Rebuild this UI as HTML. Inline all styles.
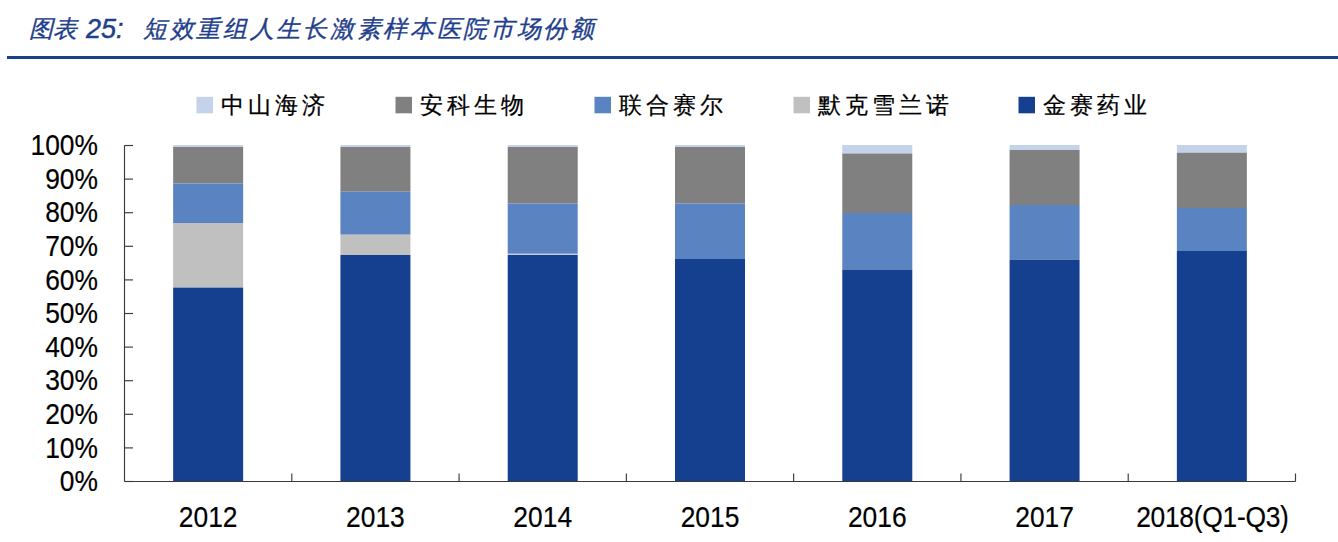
<!DOCTYPE html>
<html><head><meta charset="utf-8"><style>
html,body{margin:0;padding:0;background:#fff;width:1338px;height:542px;overflow:hidden}
svg{display:block}
.ax{font-family:"Liberation Sans",sans-serif;font-size:29px;fill:#000;stroke:#000;stroke-width:0.2px}
.lg{font-family:"Liberation Serif",serif;font-size:23px;fill:#000;letter-spacing:4px;font-weight:500;stroke:#000;stroke-width:0.25px}
.ti{font-family:"Liberation Serif",serif;font-size:24px;fill:#1F3F8C;font-style:italic;font-weight:500;stroke:#1F3F8C;stroke-width:0.35px}
.tn{font-family:"Liberation Sans",sans-serif;font-size:27px;fill:#1F3F8C;font-style:italic;stroke:#1F3F8C;stroke-width:0.45px}
</style></head><body>
<svg width="1338" height="542" viewBox="0 0 1338 542">
<text x="29" y="36.7" class="ti" style="letter-spacing:0px">图表</text><text x="86" y="37.7" class="tn">25:</text><text x="143" y="36.7" class="ti" style="letter-spacing:2.7px">短效重组人生长激素样本医院市场份额</text>
<rect x="7" y="56" width="1331" height="3" fill="#1B3F88"/>
<rect x="196.5" y="96.8" width="16.5" height="16.5" fill="#C5D3EA"/><text x="221" y="112.5" class="lg">中山海济</text><rect x="395.5" y="96.8" width="16.5" height="16.5" fill="#808080"/><text x="420" y="112.5" class="lg">安科生物</text><rect x="594.5" y="96.8" width="16.5" height="16.5" fill="#5A84C1"/><text x="619" y="112.5" class="lg">联合赛尔</text><rect x="793.5" y="96.8" width="16.5" height="16.5" fill="#C0C0C0"/><text x="818" y="112.5" class="lg">默克雪兰诺</text><rect x="1018.5" y="96.8" width="16.5" height="16.5" fill="#15408F"/><text x="1043" y="112.5" class="lg">金赛药业</text>
<rect x="173.14" y="145.00" width="70" height="2.00" fill="#C5D3EA"/><rect x="173.14" y="147.00" width="70" height="36.50" fill="#808080"/><rect x="173.14" y="183.50" width="70" height="39.50" fill="#5A84C1"/><rect x="173.14" y="223.00" width="70" height="64.60" fill="#C0C0C0"/><rect x="173.14" y="287.60" width="70" height="193.90" fill="#15408F"/><text transform="translate(208.14,527) scale(0.91,1)" text-anchor="middle" class="ax">2012</text><rect x="340.43" y="145.00" width="70" height="2.00" fill="#C5D3EA"/><rect x="340.43" y="147.00" width="70" height="44.70" fill="#808080"/><rect x="340.43" y="191.70" width="70" height="43.00" fill="#5A84C1"/><rect x="340.43" y="234.70" width="70" height="20.30" fill="#C0C0C0"/><rect x="340.43" y="255.00" width="70" height="226.50" fill="#15408F"/><text transform="translate(375.43,527) scale(0.91,1)" text-anchor="middle" class="ax">2013</text><rect x="507.71" y="145.00" width="70" height="2.00" fill="#C5D3EA"/><rect x="507.71" y="147.00" width="70" height="56.50" fill="#808080"/><rect x="507.71" y="203.50" width="70" height="50.30" fill="#5A84C1"/><rect x="507.71" y="253.80" width="70" height="1.20" fill="#C2CCE6"/><rect x="507.71" y="255.00" width="70" height="226.50" fill="#15408F"/><text transform="translate(542.71,527) scale(0.91,1)" text-anchor="middle" class="ax">2014</text><rect x="675.00" y="145.00" width="70" height="2.00" fill="#C5D3EA"/><rect x="675.00" y="147.00" width="70" height="56.50" fill="#808080"/><rect x="675.00" y="203.50" width="70" height="55.50" fill="#5A84C1"/><rect x="675.00" y="259.00" width="70" height="222.50" fill="#15408F"/><text transform="translate(710.00,527) scale(0.91,1)" text-anchor="middle" class="ax">2015</text><rect x="842.29" y="145.00" width="70" height="8.50" fill="#C5D3EA"/><rect x="842.29" y="153.50" width="70" height="59.50" fill="#808080"/><rect x="842.29" y="213.00" width="70" height="56.50" fill="#5A84C1"/><rect x="842.29" y="269.50" width="70" height="212.00" fill="#15408F"/><text transform="translate(877.29,527) scale(0.91,1)" text-anchor="middle" class="ax">2016</text><rect x="1009.57" y="145.00" width="70" height="5.00" fill="#C5D3EA"/><rect x="1009.57" y="150.00" width="70" height="55.00" fill="#808080"/><rect x="1009.57" y="205.00" width="70" height="54.60" fill="#5A84C1"/><rect x="1009.57" y="259.60" width="70" height="221.90" fill="#15408F"/><text transform="translate(1044.57,527) scale(0.91,1)" text-anchor="middle" class="ax">2017</text><rect x="1176.86" y="145.00" width="70" height="7.70" fill="#C5D3EA"/><rect x="1176.86" y="152.70" width="70" height="55.30" fill="#808080"/><rect x="1176.86" y="208.00" width="70" height="43.00" fill="#5A84C1"/><rect x="1176.86" y="251.00" width="70" height="230.50" fill="#15408F"/><text transform="translate(1212.36,527) scale(0.91,1)" text-anchor="middle" class="ax" letter-spacing="-0.3">2018(Q1-Q3)</text>
<line x1="124.5" y1="145.5" x2="124.5" y2="481.5" stroke="#3a3a3a" stroke-width="1.15"/>
<line x1="124.5" y1="481.5" x2="1295.5" y2="481.5" stroke="#3a3a3a" stroke-width="1.15"/>
<line x1="124.5" y1="481.50" x2="133.0" y2="481.50" stroke="#3a3a3a" stroke-width="1.15"/><text transform="translate(98,491.20) scale(0.91,1)" text-anchor="end" class="ax">0%</text><line x1="124.5" y1="447.90" x2="133.0" y2="447.90" stroke="#3a3a3a" stroke-width="1.15"/><text transform="translate(98,457.60) scale(0.91,1)" text-anchor="end" class="ax">10%</text><line x1="124.5" y1="414.30" x2="133.0" y2="414.30" stroke="#3a3a3a" stroke-width="1.15"/><text transform="translate(98,424.00) scale(0.91,1)" text-anchor="end" class="ax">20%</text><line x1="124.5" y1="380.70" x2="133.0" y2="380.70" stroke="#3a3a3a" stroke-width="1.15"/><text transform="translate(98,390.40) scale(0.91,1)" text-anchor="end" class="ax">30%</text><line x1="124.5" y1="347.10" x2="133.0" y2="347.10" stroke="#3a3a3a" stroke-width="1.15"/><text transform="translate(98,356.80) scale(0.91,1)" text-anchor="end" class="ax">40%</text><line x1="124.5" y1="313.50" x2="133.0" y2="313.50" stroke="#3a3a3a" stroke-width="1.15"/><text transform="translate(98,323.20) scale(0.91,1)" text-anchor="end" class="ax">50%</text><line x1="124.5" y1="279.90" x2="133.0" y2="279.90" stroke="#3a3a3a" stroke-width="1.15"/><text transform="translate(98,289.60) scale(0.91,1)" text-anchor="end" class="ax">60%</text><line x1="124.5" y1="246.30" x2="133.0" y2="246.30" stroke="#3a3a3a" stroke-width="1.15"/><text transform="translate(98,256.00) scale(0.91,1)" text-anchor="end" class="ax">70%</text><line x1="124.5" y1="212.70" x2="133.0" y2="212.70" stroke="#3a3a3a" stroke-width="1.15"/><text transform="translate(98,222.40) scale(0.91,1)" text-anchor="end" class="ax">80%</text><line x1="124.5" y1="179.10" x2="133.0" y2="179.10" stroke="#3a3a3a" stroke-width="1.15"/><text transform="translate(98,188.80) scale(0.91,1)" text-anchor="end" class="ax">90%</text><line x1="124.5" y1="145.50" x2="133.0" y2="145.50" stroke="#3a3a3a" stroke-width="1.15"/><text transform="translate(98,155.20) scale(0.91,1)" text-anchor="end" class="ax">100%</text><line x1="291.79" y1="481.5" x2="291.79" y2="473.5" stroke="#3a3a3a" stroke-width="1.15"/><line x1="459.07" y1="481.5" x2="459.07" y2="473.5" stroke="#3a3a3a" stroke-width="1.15"/><line x1="626.36" y1="481.5" x2="626.36" y2="473.5" stroke="#3a3a3a" stroke-width="1.15"/><line x1="793.64" y1="481.5" x2="793.64" y2="473.5" stroke="#3a3a3a" stroke-width="1.15"/><line x1="960.93" y1="481.5" x2="960.93" y2="473.5" stroke="#3a3a3a" stroke-width="1.15"/><line x1="1128.21" y1="481.5" x2="1128.21" y2="473.5" stroke="#3a3a3a" stroke-width="1.15"/><line x1="1295.50" y1="481.5" x2="1295.50" y2="473.5" stroke="#3a3a3a" stroke-width="1.15"/>
</svg>
</body></html>
